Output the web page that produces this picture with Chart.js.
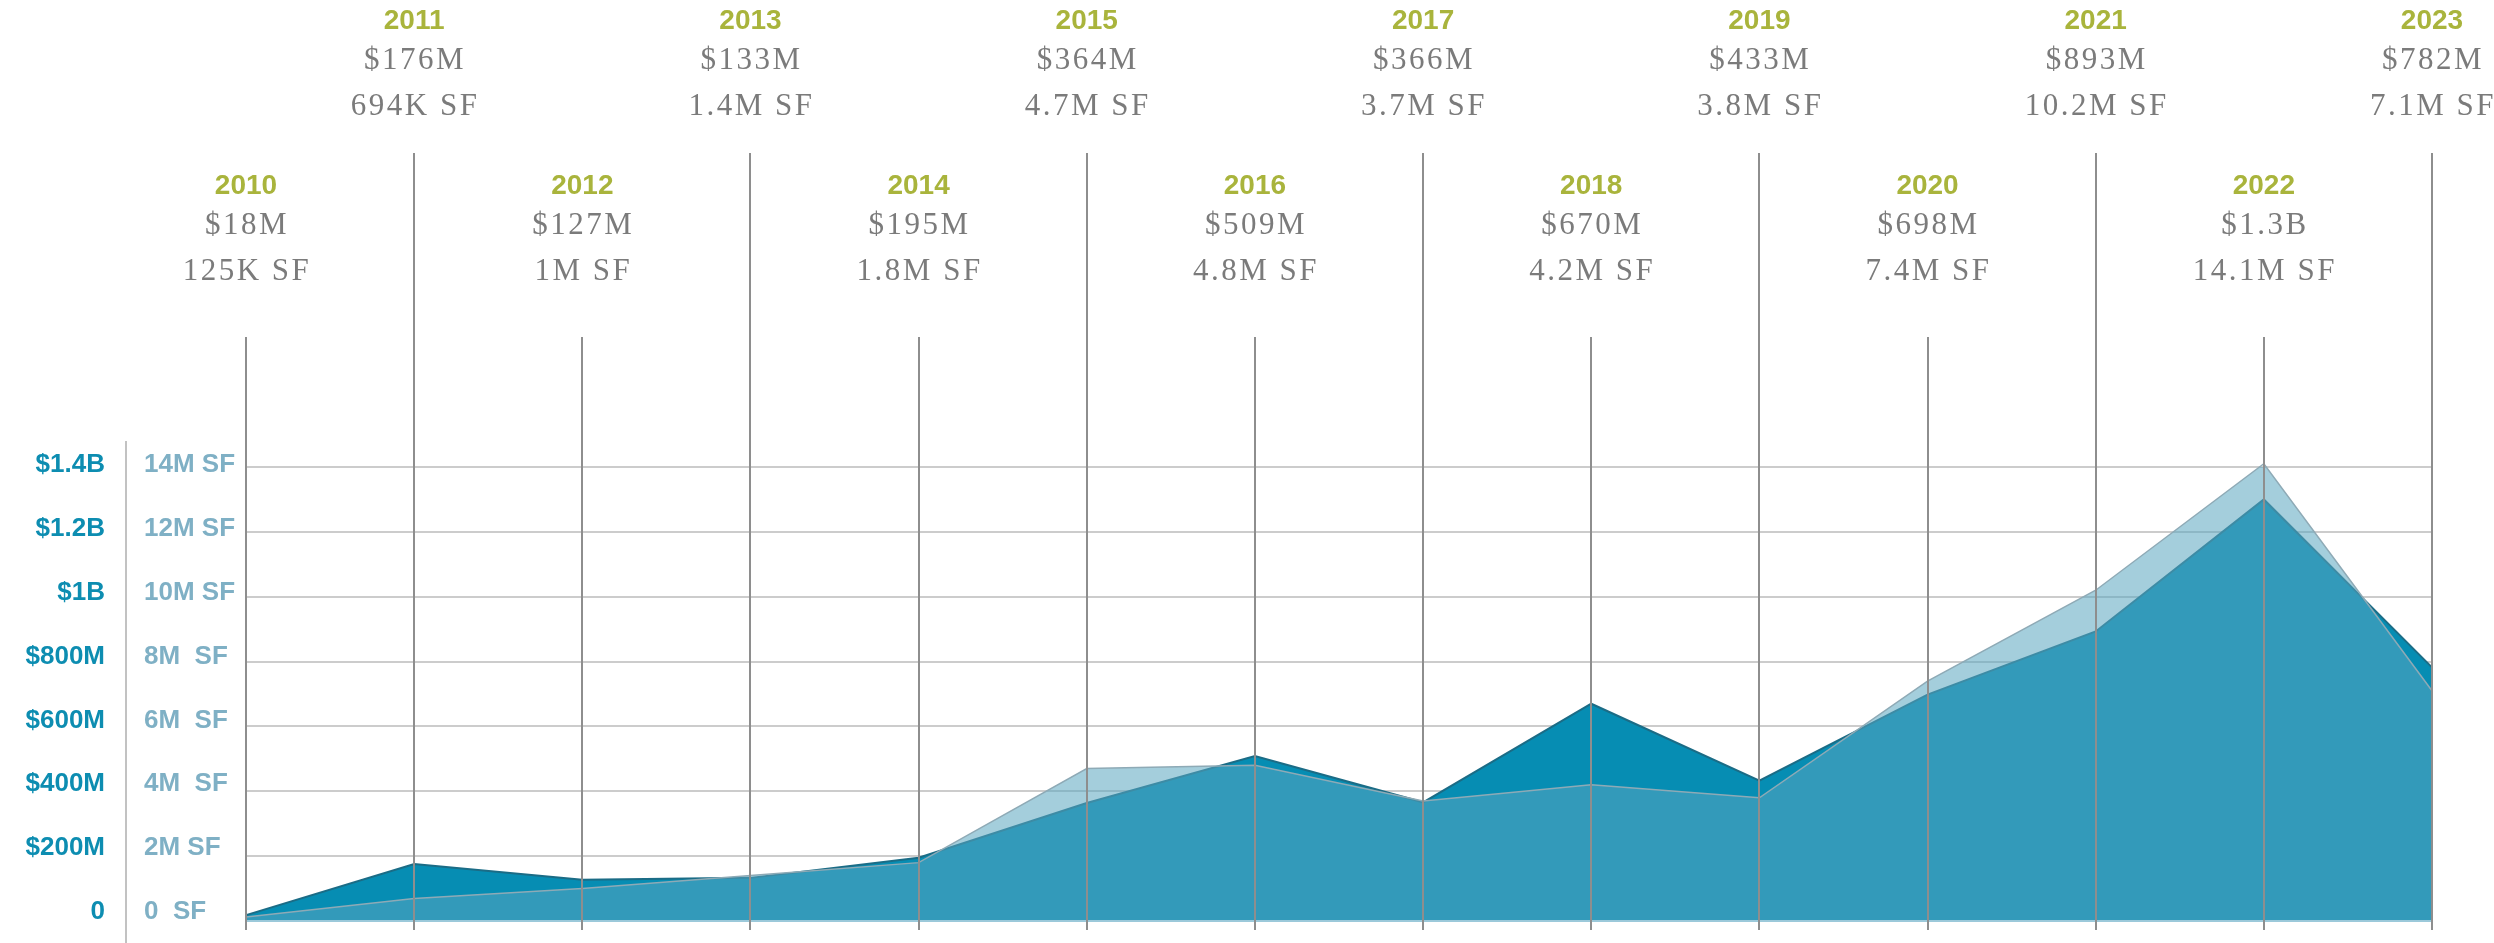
<!DOCTYPE html>
<html>
<head>
<meta charset="utf-8">
<script src="https://cdn.jsdelivr.net/npm/chart.js@4.4.1/dist/chart.umd.min.js"></script>
<style>
  html, body { margin: 0; padding: 0; background: #fff; }
  canvas { display: block; }
</style>
</head>
<body>
<canvas id="deals-graph" width="2494" height="943"></canvas>
<script>
const years = ['2010','2011','2012','2013','2014','2015','2016','2017','2018','2019','2020','2021','2022','2023']
const dollarsM = [18, 176, 127, 133, 195, 364, 509, 366, 670, 433, 698, 893, 1300, 782]
const sqftM = [0.125, 0.694, 1, 1.4, 1.8, 4.7, 4.8, 3.7, 4.2, 3.8, 7.4, 10.2, 14.1, 7.1]
const dollarLabels = ['$18M','$176M','$127M','$133M','$195M','$364M','$509M','$366M','$670M','$433M','$698M','$893M','$1.3B','$782M']
const sqftLabels = ['125K SF','694K SF','1M SF','1.4M SF','1.8M SF','4.7M SF','4.8M SF','3.7M SF','4.2M SF','3.8M SF','7.4M SF','10.2M SF','14.1M SF','7.1M SF']
const dollarTickValues = [0, 200, 400, 600, 800, 1000, 1200, 1400]
const dollarTicks = ['0','$200M','$400M','$600M','$800M','$1B','$1.2B','$1.4B']
const sqftTickValues = [0, 2, 4, 6, 8, 10, 12, 14]
const sqftTicks = ['0  SF','2M SF','4M  SF','6M  SF','8M  SF','10M SF','12M SF','14M SF']

const canvas = document.getElementById('deals-graph')

function line(ctx, x1, y1, x2, y2) {
    ctx.beginPath()
    ctx.moveTo(x1, y1)
    ctx.lineTo(x2, y2)
    ctx.stroke()
}

const overlay = {
    id: 'overlay',
    beforeDatasetsDraw(chart) {
        const {ctx, chartArea: a, scales} = chart
        ctx.save()
        ctx.strokeStyle = '#cccccc'
        ctx.lineWidth = 2
        sqftTickValues.forEach(v => {
            if (v === 0) return
            const y = Math.round(scales.ySqft.getPixelForValue(v))
            line(ctx, a.left, y, a.right, y)
        })
        ctx.restore()
    },
    afterDatasetsDraw(chart) {
        const {ctx, chartArea: a, scales} = chart
        const x = scales.x
        ctx.save()

        // light baseline
        ctx.strokeStyle = '#9cc9da'
        ctx.lineWidth = 2
        line(ctx, a.left, a.bottom, a.right, a.bottom)

        // year lines
        ctx.strokeStyle = '#8e8e8e'
        ctx.lineWidth = 2
        years.forEach((yr, i) => {
            const px = Math.round(x.getPixelForValue(i))
            const top = i % 2 === 1 ? 153 : 337
            line(ctx, px, top, px, a.bottom + 9)
        })

        // year blocks
        ctx.textAlign = 'center'
        ctx.textBaseline = 'middle'
        years.forEach((yr, i) => {
            const px = x.getPixelForValue(i)
            const base = i % 2 === 1 ? 0 : 165
            ctx.letterSpacing = '0px'
            ctx.fillStyle = '#a9b43c'
            ctx.font = 'bold 28px "Liberation Sans", Arial, sans-serif'
            ctx.fillText(yr, px, base + 21)
            ctx.letterSpacing = '2.5px'
            ctx.fillStyle = '#7b7b7b'
            ctx.font = '31px "Liberation Serif", "Times New Roman", serif'
            ctx.fillText(dollarLabels[i], px + 1, base + 61)
            ctx.fillText(sqftLabels[i], px + 1, base + 107)
        })
        ctx.letterSpacing = '0px'

        // axis columns
        ctx.strokeStyle = '#c2c2c2'
        ctx.lineWidth = 2
        line(ctx, 126, 441, 126, 943)

        ctx.font = 'bold 26px "Liberation Sans", Arial, sans-serif'
        ctx.textAlign = 'right'
        ctx.fillStyle = '#0d8db1'
        dollarTickValues.forEach((v, i) => {
            ctx.fillText(dollarTicks[i], 105, scales.yDollar.getPixelForValue(v) - 9 + i)
        })
        ctx.textAlign = 'left'
        ctx.fillStyle = '#7fb0c5'
        sqftTickValues.forEach((v, i) => {
            ctx.fillText(sqftTicks[i], 144, scales.ySqft.getPixelForValue(v) - 9 + i)
        })
        ctx.restore()
    }
}

const data = {
    labels: years,
    datasets: [{
        label: 'Dollar volume',
        data: dollarsM,
        yAxisID: 'yDollar',
        fill: 'origin',
        backgroundColor: 'rgb(6,141,179)',
        borderColor: '#1b6c86',
        borderWidth: 2,
        pointRadius: 0,
        tension: 0,
        clip: false,
        order: 2
    }, {
        label: 'Square feet',
        data: sqftM,
        yAxisID: 'ySqft',
        fill: 'origin',
        backgroundColor: 'rgba(90,165,192,0.55)',
        borderColor: '#8eaab6',
        borderWidth: 1.5,
        pointRadius: 0,
        tension: 0,
        clip: false,
        order: 1
    }]
}

const config = {
    type: 'line',
    data: data,
    options: {
        responsive: false,
        devicePixelRatio: 1,
        animation: false,
        layout: { padding: { left: 246, right: 62, top: 467, bottom: 22 } },
        plugins: { legend: { display: false }, tooltip: { enabled: false } },
        scales: {
            x: { display: false, offset: false },
            yDollar: { display: false, min: 0, max: 1400 },
            ySqft: { display: false, min: 0, max: 14 }
        }
    },
    plugins: [overlay]
}

new Chart(canvas, config)
</script>
</body>
</html>
